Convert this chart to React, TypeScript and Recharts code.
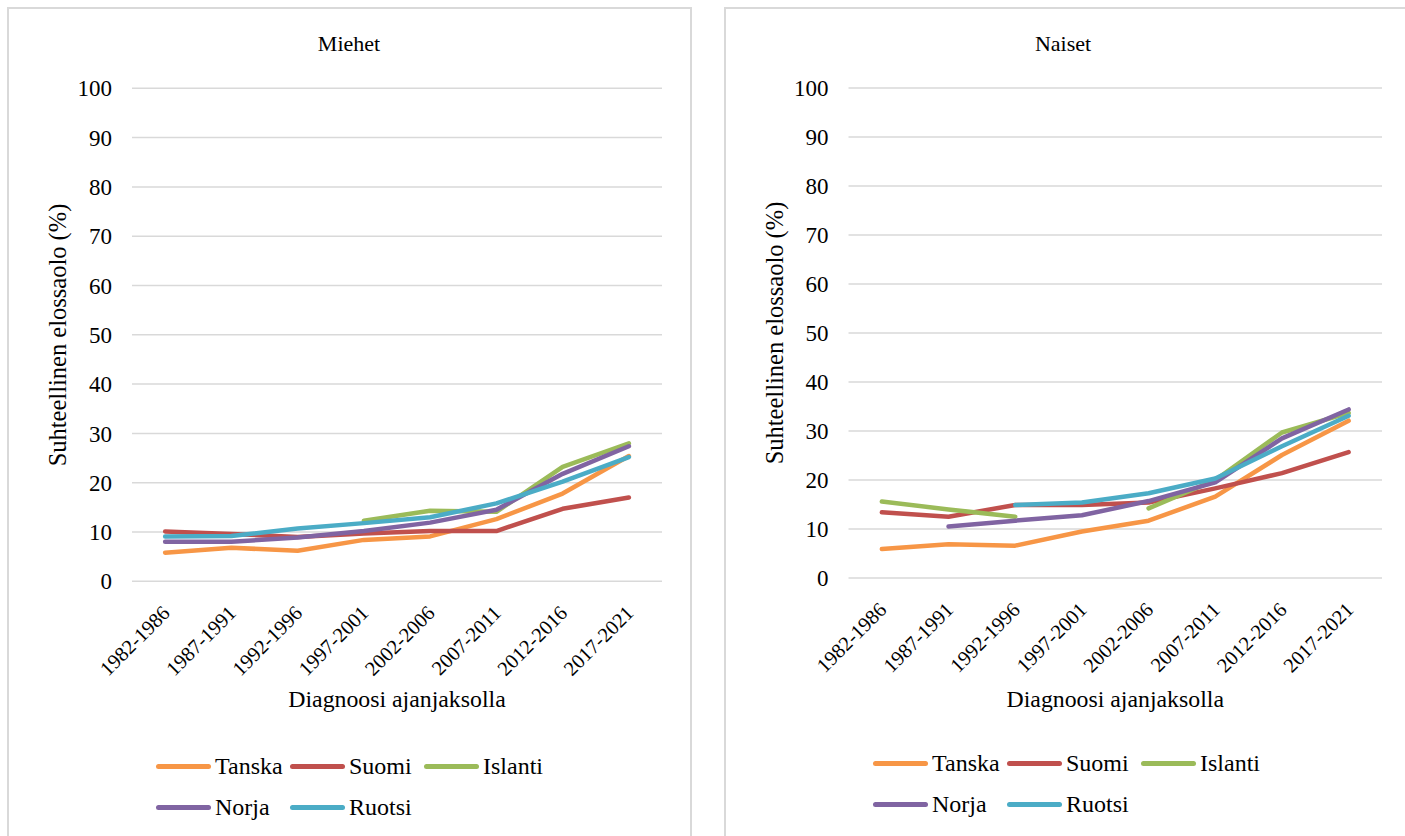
import React from "react";
import { LineChart, Line, XAxis, YAxis, CartesianGrid } from "recharts";

const categories = [
  "1982-1986",
  "1987-1991",
  "1992-1996",
  "1997-2001",
  "2002-2006",
  "2007-2011",
  "2012-2016",
  "2017-2021",
];
const yTicks = [0, 10, 20, 30, 40, 50, 60, 70, 80, 90, 100];

// miehet
const miehetTanska = [5.8, 6.8, 6.2, 8.4, 9.1, 12.6, 17.8, 25.4];
const miehetSuomi = [10.1, 9.6, 9.0, 9.7, 10.2, 10.2, 14.7, 17.0];
const miehetIslanti = [null, null, null, 12.3, 14.3, 14.1, 23.2, 28.0];
const miehetNorja = [8.0, 8.0, 8.9, 10.2, 11.9, 14.5, 21.8, 27.4];
const miehetRuotsi = [9.1, 9.2, 10.7, 11.8, 13.0, 15.8, 20.2, 25.2];

// naiset
const naisetTanska = [5.9, 6.9, 6.6, 9.5, 11.7, 16.6, 25.1, 32.1];
const naisetSuomi = [13.4, 12.5, 14.9, 14.9, 15.4, 18.3, 21.4, 25.7];
const naisetIslanti = [15.6, 14.0, 12.5, null, 14.2, 20.0, 29.7, 33.7];
const naisetNorja = [null, 10.5, 11.7, 12.8, 15.7, 19.5, 28.5, 34.4];
const naisetRuotsi = [null, null, 14.9, 15.4, 17.3, 20.3, 26.9, 33.1];

const countries = ["Tanska", "Suomi", "Islanti", "Norja", "Ruotsi"];
const colors = ["#F79646", "#C0504D", "#9BBB59", "#8064A2", "#4BACC6"];

const FONT = "'Liberation Serif', 'DejaVu Serif', 'Times New Roman', serif";
const GRID = "#d9d9d9";

function buildRows(series: (number | null)[][]) {
  return categories.map((c, i) => {
    const row: Record<string, any> = { period: c };
    countries.forEach((k, j) => {
      row[k] = series[j][i];
    });
    return row;
  });
}

const miehetData = buildRows([miehetTanska, miehetSuomi, miehetIslanti, miehetNorja, miehetRuotsi]);
const naisetData = buildRows([naisetTanska, naisetSuomi, naisetIslanti, naisetNorja, naisetRuotsi]);

function RotTick({ x, y, payload }: any) {
  const ax = x + 6;
  const ay = y + 25;
  return (
    <text
      x={ax}
      y={ay}
      textAnchor="end"
      fontSize={20.5}
      fontFamily={FONT}
      fill="#000"
      transform={`rotate(-45, ${ax}, ${ay})`}
    >
      {payload.value}
    </text>
  );
}

function Legend({ left, top }: { left: number; top: number }) {
  const rows = [
    [0, 1, 2],
    [3, 4],
  ];
  return (
    <>
      {rows.map((r, ri) =>
        r.map((idx, ci) => (
          <div
            key={idx}
            style={{
              position: "absolute",
              left: left + ci * 134,
              top: top + ri * 41 - 14,
              height: 28,
              display: "flex",
              alignItems: "center",
              fontFamily: FONT,
              fontSize: 24,
              color: "#000",
              whiteSpace: "nowrap",
            }}
          >
            <span
              style={{
                display: "inline-block",
                width: 55,
                height: 5,
                borderRadius: 3,
                background: colors[idx],
                marginRight: 4,
              }}
            />
            {countries[idx]}
          </div>
        ))
      )}
    </>
  );
}

type PanelProps = {
  title: string;
  data: any[];
  x: number;
  width: number;
  plotLeft: number;
  plotRight: number;
  plotTop: number;
  plotBottom: number;
  titleX: number;
  yLabelX: number;
  legendX: number;
  legendY: number;
};

function Panel(p: PanelProps) {
  const H = 836;
  const yAxisW = 60;
  const xAxisH = 30;
  const plotW = p.plotRight - p.plotLeft;
  const pad = plotW / categories.length / 2;
  const cx = (p.plotLeft + p.plotRight) / 2;
  const cy = (p.plotTop + p.plotBottom) / 2;
  return (
    <>
      <div style={{ position: "absolute", left: p.x, top: 0 }}>
        <LineChart
          width={p.width}
          height={H}
          data={p.data}
          margin={{
            top: p.plotTop,
            bottom: H - p.plotBottom - xAxisH,
            left: p.plotLeft - p.x - yAxisW,
            right: p.x + p.width - p.plotRight,
          }}
        >
          <CartesianGrid vertical={false} stroke={GRID} strokeWidth={1.5} />
          <XAxis
            dataKey="period"
            height={xAxisH}
            axisLine={false}
            tickLine={false}
            padding={{ left: pad, right: pad }}
            interval={0}
            tick={<RotTick />}
          />
          <YAxis
            width={yAxisW}
            domain={[0, 100]}
            ticks={yTicks}
            axisLine={false}
            tickLine={false}
            tickSize={0}
            tickMargin={20}
            tick={{ fontSize: 23, fontFamily: FONT, fill: "#000" }}
          />
          {countries.map((k, i) => (
            <Line
              key={k}
              dataKey={k}
              stroke={colors[i]}
              strokeWidth={4.5}
              strokeLinecap="round"
              strokeLinejoin="round"
              dot={false}
              isAnimationActive={false}
            />
          ))}
        </LineChart>
      </div>
      <div
        style={{
          position: "absolute",
          left: p.titleX - 100,
          width: 200,
          top: 30,
          textAlign: "center",
          fontFamily: FONT,
          fontSize: 22,
          lineHeight: "28px",
        }}
      >
        {p.title}
      </div>
      <div
        style={{
          position: "absolute",
          left: p.yLabelX - 200,
          top: cy - 14,
          width: 400,
          height: 28,
          lineHeight: "28px",
          textAlign: "center",
          transform: "rotate(-90deg)",
          fontFamily: FONT,
          fontSize: 24.5,
          whiteSpace: "nowrap",
        }}
      >
        Suhteellinen elossaolo (%)
      </div>
      <div
        style={{
          position: "absolute",
          left: cx - 200,
          width: 400,
          top: 685,
          lineHeight: "28px",
          textAlign: "center",
          fontFamily: FONT,
          fontSize: 23.8,
        }}
      >
        Diagnoosi ajanjaksolla
      </div>
      <Legend left={p.legendX} top={p.legendY} />
    </>
  );
}

export default function App() {
  return (
    <div
      style={{
        position: "absolute",
        left: 0,
        top: 0,
        width: 1405,
        height: 836,
        overflow: "hidden",
        background: "#fff",
        fontFamily: FONT,
      }}
    >
      <div
        style={{
          position: "absolute",
          left: 7,
          top: 7,
          width: 685,
          height: 850,
          border: `2px solid ${GRID}`,
          boxSizing: "border-box",
        }}
      />
      <div
        style={{
          position: "absolute",
          left: 724,
          top: 7,
          width: 700,
          height: 850,
          border: `2px solid ${GRID}`,
          boxSizing: "border-box",
        }}
      />
      <Panel
        title="Miehet"
        data={miehetData}
        x={0}
        width={700}
        plotLeft={132}
        plotRight={662}
        plotTop={88.3}
        plotBottom={581.3}
        titleX={349}
        yLabelX={58}
        legendX={156}
        legendY={766}
      />
      <Panel
        title="Naiset"
        data={naisetData}
        x={700}
        width={705}
        plotLeft={848.5}
        plotRight={1382}
        plotTop={88}
        plotBottom={578}
        titleX={1063}
        yLabelX={775}
        legendX={873}
        legendY={763}
      />
    </div>
  );
}
